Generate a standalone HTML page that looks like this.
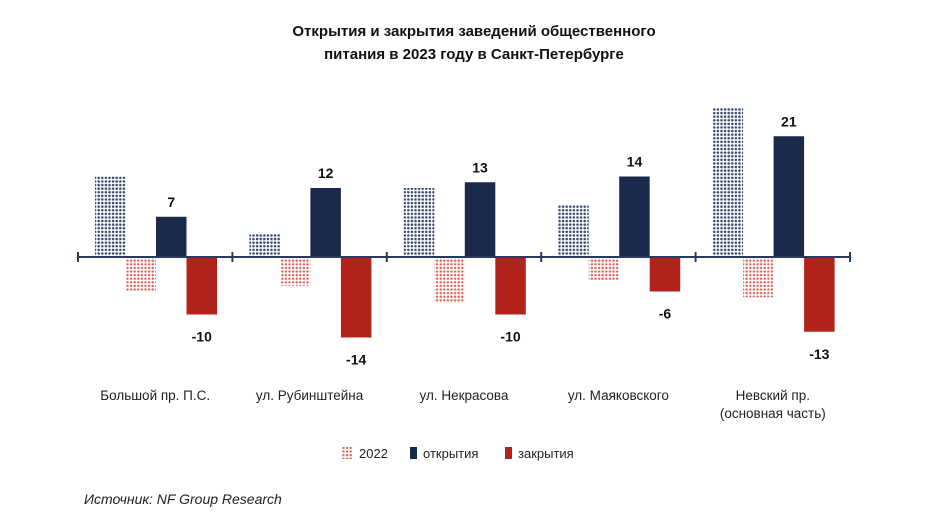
<!DOCTYPE html>
<html><head><meta charset="utf-8"><style>
body{margin:0;background:#fff;}
svg{display:block;font-family:"Liberation Sans",sans-serif;}
</style></head><body>
<svg id="chart" width="930" height="525" viewBox="0 0 930 525">
<defs>
<pattern id="dotBlue" width="3.6" height="3.6" patternUnits="userSpaceOnUse"><rect width="3.6" height="3.6" fill="#fff"/><circle cx="1.5" cy="1.5" r="1.25" fill="#34456e"/></pattern>
<pattern id="dotRed" width="3.6" height="3.6" patternUnits="userSpaceOnUse"><rect width="3.6" height="3.6" fill="#fff"/><circle cx="1.5" cy="1.5" r="1.2" fill="#d9665c"/></pattern>
</defs>
<text x="474" y="36" text-anchor="middle" font-size="15" font-weight="bold" fill="#111">Открытия и закрытия заведений общественного</text>
<text x="474" y="59" text-anchor="middle" font-size="15" font-weight="bold" fill="#111">питания в 2023 году в Санкт-Петербурге</text>
<g id="bars"></g>
<g id="axis"></g>
<g>
<rect x="341" y="447" width="12" height="12" fill="url(#dotRed)"/>
<text x="359" y="458" font-size="13" fill="#222">2022</text>
<rect x="410" y="447" width="7" height="12" fill="#1b2a4a"/>
<text x="423" y="458" font-size="13" fill="#222">открытия</text>
<rect x="505" y="447" width="7" height="12" fill="#b0221a"/>
<text x="518" y="458" font-size="13" fill="#222">закрытия</text>
</g>
<text x="84" y="504" font-size="14" font-style="italic" fill="#222">Источник: NF Group Research</text>
</svg>
<script>
const categories=["Большой пр. П.С.","ул. Рубинштейна","ул. Некрасова","ул. Маяковского","Невский пр.|(основная часть)"];
const open2022=[14,4,12,9,26];
const close2022=[-6,-5,-8,-4,-7];
const openings=[7,12,13,14,21];
const closings=[-10,-14,-10,-6,-13];
const NS="http://www.w3.org/2000/svg";
const x0=78,x1=850,y0=257,k=5.75;
const gw=(x1-x0)/categories.length,bw=30.5;
const y=v=>y0-v*k;
const gx=i=>x0+i*gw;
const bars=document.getElementById('bars'),axis=document.getElementById('axis');
function mk(tag,attrs,parent){const e=document.createElementNS(NS,tag);for(const a in attrs)e.setAttribute(a,attrs[a]);parent.appendChild(e);return e;}
function bar(x,v,fill){const t=Math.min(y(v),y0),h=Math.abs(y(v)-y0);return mk('rect',{x:x,y:t,width:bw,height:h,fill:fill},bars);}
categories.forEach((c,i)=>{
  const b=gx(i)+17;
  let r=bar(b,open2022[i],'url(#dotBlue)');
  
  
  r=bar(b+bw,close2022[i],'url(#dotRed)');
  
  
  r=bar(b+2*bw,openings[i],'#1b2a4a');
  
  
  r=bar(b+3*bw,closings[i],'#b0221a');
  
  
  let t=mk('text',{x:b+2.5*bw,y:y(openings[i])-10,'text-anchor':'middle','font-size':14,'font-weight':'bold',fill:'#111'},bars);
  t.textContent=openings[i];
  
  
  t=mk('text',{x:b+3.5*bw,y:y(closings[i])+27,'text-anchor':'middle','font-size':14,'font-weight':'bold',fill:'#111'},bars);
  t.textContent=closings[i];
  
  
  c.split('|').forEach((ln,j)=>{
    const l=mk('text',{x:gx(i)+gw/2,y:400+j*18,'text-anchor':'middle','font-size':13.5,fill:'#222'},axis);
    l.textContent=ln;
    
    
  });
});
const al=mk('line',{x1:x0,x2:x1,y1:y0,y2:y0,stroke:'#2b3a5c','stroke-width':2},axis);


for(let i=0;i<=categories.length;i++){
  const tk=mk('line',{x1:gx(i),x2:gx(i),y1:y0-5,y2:y0+5,stroke:'#2b3a5c','stroke-width':2},axis);
  
  
}
</script>
</body></html>
